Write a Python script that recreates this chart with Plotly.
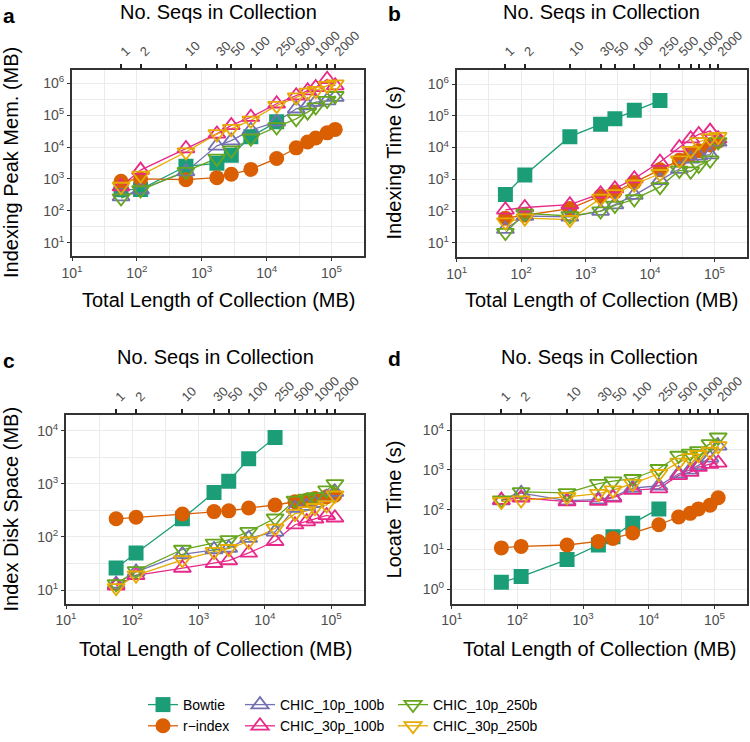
import plotly.graph_objects as go

# ---------------- data ----------------
n_seqs_labels = ["1", "2", "10", "30", "50", "100", "250", "500", "", "1000", "", "2000"]
total_mb = [57, 114, 570, 1710, 2850, 5700, 14250, 28500, 42750, 57000, 85500, 114000]
bowtie_mb = total_mb[:7]

series_names = ["Bowtie", "r\u2212index", "CHIC_10p_100b", "CHIC_30p_100b", "CHIC_10p_250b", "CHIC_30p_250b"]

# Panel a: Indexing peak memory (MB)
bowtie_mem = [460, 470, 2500, 3100, 5600, 21000, 62000]
rindex_mem = [850, 1000, 950, 1100, 1400, 2000, 4400, 9500, 14500, 19400, 28000, 36000]
chic10_100_mem = [280, 460, 1700, 11000, 16000, 34000, 62000, 160000, 200000, 260000, 290000, 370000]
chic30_100_mem = [580, 1900, 9000, 26000, 48000, 87000, 230000, 410000, 590000, 750000, 1350000, 850000]
chic10_250_mem = [250, 450, 1700, 4400, 8000, 19000, 43000, 77000, 125000, 180000, 290000, 410000]
chic30_250_mem = [580, 1300, 7000, 26000, 38000, 69000, 200000, 370000, 520000, 590000, 850000, 950000]

# Panel b: Indexing time (s)
bowtie_time = [330, 1380, 22000, 54000, 81000, 148000, 300000]
rindex_time = [60, 75, 120, 300, 400, 800, 2000, 4000, 6000, 8000, 12000, 16000]
chic10_100_time = [27, 70, 66, 100, 160, 320, 930, 2100, 4400, 5500, 6000, 15000]
chic30_100_time = [110, 130, 160, 350, 510, 1050, 3500, 10000, 19000, 26000, 33000, 19000]
chic10_250_time = [21, 85, 70, 100, 150, 240, 580, 1900, 1800, 2700, 4000, 15000]
chic30_250_time = [45, 60, 54, 250, 350, 700, 1500, 4000, 8000, 15000, 20000, 22000]

# Panel c: Index disk space (MB)
bowtie_disk = [26, 50, 220, 690, 1120, 2960, 7500]
rindex_disk = [220, 235, 270, 300, 310, 350, 400, 460, 490, 530, 570, 610]
chic10_100_disk = [13, 22, 47, 58, 62, 95, 125, 350, 380, 430, 560, 700]
chic30_100_disk = [12, 19, 26, 32, 36, 50, 83, 170, 195, 220, 255, 230]
chic10_250_disk = [13, 23, 58, 76, 88, 126, 225, 490, 530, 570, 760, 1000]
chic30_250_disk = [11, 19, 37, 53, 60, 83, 145, 275, 310, 355, 400, 610]

# Panel d: Locate time (s)
bowtie_loc = [1.5, 2.1, 5.6, 13, 21, 46, 105]
rindex_loc = [11, 12, 13, 16, 19, 26, 42, 66, 81, 105, 130, 200]
chic10_100_loc = [170, 260, 170, 180, 210, 350, 400, 800, 1000, 1300, 2000, 4000]
chic30_100_loc = [175, 200, 160, 165, 200, 310, 340, 730, 880, 1170, 1400, 1500]
chic10_250_loc = [175, 280, 265, 450, 520, 600, 1070, 2300, 2600, 3000, 4500, 6600]
chic30_250_loc = [160, 175, 210, 255, 310, 450, 800, 1550, 2000, 2400, 2900, 4000]

x_ticks = [10, 100, 1000, 10000, 100000]
x_ticktext = ["10<sup>1</sup>", "10<sup>2</sup>", "10<sup>3</sup>", "10<sup>4</sup>", "10<sup>5</sup>"]
y_ticks_ab = [10, 100, 1000, 10000, 100000, 1000000]
y_ticktext_ab = ["10<sup>%d</sup>" % i for i in range(1, 7)]
y_ticks_c = [10, 100, 1000, 10000]
y_ticktext_c = ["10<sup>%d</sup>" % i for i in range(1, 5)]
y_ticks_d = [1, 10, 100, 1000, 10000]
y_ticktext_d = ["10<sup>%d</sup>" % i for i in range(0, 5)]

panel_letters = ["a", "b", "c", "d"]
y_titles = ["Indexing Peak Mem. (MB)", "Indexing Time (s)", "Index Disk Space (MB)", "Locate Time (s)"]
x_title = "Total Length of Collection (MB)"
top_title = "No. Seqs in Collection"

# ---------------- styling ----------------
colors = ["#1B9E77", "#D95F02", "#7570B3", "#E7298A", "#66A61E", "#E6AB02"]
symbols = ["square", "circle", "triangle-up-open", "triangle-up-open", "triangle-down-open", "triangle-down-open"]
msizes = [15, 15, 15, 15, 15, 15]
FONT = "Liberation Sans, Arial, Helvetica, sans-serif"
W, H = 750, 742

def fx(px):
    return px / W

def fy(py):
    return 1 - py / H

panels = [
    dict(data=[bowtie_mem, rindex_mem, chic10_100_mem, chic30_100_mem, chic10_250_mem, chic30_250_mem],
         px=(72, 364), py=(70.7, 258.3), yr=(0.586, 6.42), yt=(y_ticks_ab, y_ticktext_ab)),
    dict(data=[bowtie_time, rindex_time, chic10_100_time, chic30_100_time, chic10_250_time, chic30_250_time],
         px=(456.7, 746.7), py=(70.7, 259.3), yr=(0.56, 6.44), yt=(y_ticks_ab, y_ticktext_ab)),
    dict(data=[bowtie_disk, rindex_disk, chic10_100_disk, chic30_100_disk, chic10_250_disk, chic30_250_disk],
         px=(66, 364.3), py=(419.3, 609.3), yr=(0.746, 4.29), yt=(y_ticks_c, y_ticktext_c)),
    dict(data=[bowtie_loc, rindex_loc, chic10_100_loc, chic30_100_loc, chic10_250_loc, chic30_250_loc],
         px=(451.7, 747.3), py=(419.3, 609.3), yr=(-0.356, 4.37), yt=(y_ticks_d, y_ticktext_d)),
]

fig = go.Figure()
layout = dict(width=W, height=H, autosize=False, margin=dict(l=0, r=0, t=0, b=0, pad=0),
              paper_bgcolor="white", plot_bgcolor="white", font=dict(family=FONT),
              annotations=[], hovermode=False)

def xs_for(i):
    return bowtie_mb if i == 0 else total_mb

x_minor = [10 ** (k + 0.5) for k in range(0, 6)]

for p, pan in enumerate(panels):
    k = p + 1
    xa = "x" if k == 1 else "x%d" % k
    ya = "y" if k == 1 else "y%d" % k
    for i, ys in enumerate(pan["data"]):
        fig.add_trace(go.Scatter(x=xs_for(i), y=ys, mode="lines", xaxis=xa, yaxis=ya,
                                 line=dict(color=colors[i], width=1.3), showlegend=False,
                                 hoverinfo="skip"))
    for i, ys in enumerate(pan["data"]):
        filled = i < 2
        fig.add_trace(go.Scatter(x=xs_for(i), y=ys, mode="markers", xaxis=xa, yaxis=ya,
                                 marker=dict(symbol=symbols[i], size=msizes[i], color=colors[i],
                                             line=dict(width=0 if filled else 1.8, color=colors[i])),
                                 showlegend=False, name=series_names[i]))
    x0, x1 = pan["px"]
    y0, y1 = pan["py"]
    dom_x = [fx(x0), fx(x1)]
    dom_y = [fy(y1), fy(y0)]
    yr = pan["yr"]
    y_minor = [10 ** (v + 0.5) for v in range(-1, 7)]
    layout["xaxis" if k == 1 else "xaxis%d" % k] = dict(
        type="log", domain=dom_x, anchor=ya, range=[1, 5.5], automargin=False,
        tickvals=x_ticks, ticktext=x_ticktext, tickfont=dict(size=14, color="#4D4D4D"),
        showgrid=True, gridcolor="#EBEBEB", gridwidth=1.3,
        minor=dict(tickvals=x_minor, showgrid=True, gridcolor="#EBEBEB", gridwidth=0.7, ticks=""),
        showline=True, mirror=True, linecolor="#333333", linewidth=2,
        ticks="outside", ticklen=3, tickwidth=1.2, tickcolor="#333333", zeroline=False)
    layout["yaxis" if k == 1 else "yaxis%d" % k] = dict(
        type="log", domain=dom_y, anchor=xa, range=list(yr), automargin=False,
        tickvals=pan["yt"][0], ticktext=pan["yt"][1], tickfont=dict(size=14, color="#4D4D4D"),
        showgrid=True, gridcolor="#EBEBEB", gridwidth=1.3,
        minor=dict(tickvals=y_minor, showgrid=True, gridcolor="#EBEBEB", gridwidth=0.7, ticks=""),
        showline=True, mirror=True, linecolor="#333333", linewidth=2,
        ticks="outside", ticklen=3, tickwidth=1.2, tickcolor="#333333", zeroline=False)
    layout["xaxis%d" % (k + 4)] = dict(
        type="log", overlaying=xa, anchor=ya, side="top", range=[1, 5.5], automargin=False,
        tickvals=total_mb, ticktext=n_seqs_labels, tickangle=-45,
        tickfont=dict(size=13, color="#4D4D4D"), showgrid=False, showline=False,
        ticks="outside", ticklen=5, tickwidth=1.5, tickcolor="#222222", zeroline=False)
    fig.add_trace(go.Scatter(x=[total_mb[0]], y=[pan["data"][1][0]], mode="markers",
                             xaxis="x%d" % (k + 4), yaxis=ya, marker=dict(opacity=0),
                             showlegend=False, hoverinfo="skip"))
    cxp = (x0 + x1) / 2
    cyp = (y0 + y1) / 2
    top_y = 12.5 if p < 2 else 360
    bot_y = 303 if p < 2 else 655
    ytit_x = 11 if p % 2 == 0 else 394
    let_xy = [(9, 16), (394, 14), (9, 364), (394, 362)][p]
    layout["annotations"] += [
        dict(text=top_title, x=fx(cxp), y=fy(top_y), xref="paper", yref="paper", showarrow=False,
             xanchor="center", yanchor="middle", font=dict(size=20, color="black")),
        dict(text=x_title, x=fx(cxp), y=fy(bot_y), xref="paper", yref="paper", showarrow=False,
             xanchor="center", yanchor="middle", font=dict(size=20, color="black")),
        dict(text=y_titles[p], x=fx(ytit_x), y=fy(cyp), xref="paper", yref="paper", showarrow=False,
             xanchor="center", yanchor="middle", textangle=-90, font=dict(size=20, color="black")),
        dict(text="<b>%s</b>" % panel_letters[p], x=fx(let_xy[0]), y=fy(let_xy[1]),
             xref="paper", yref="paper", showarrow=False, xanchor="center", yanchor="middle",
             font=dict(size=21, color="black")),
    ]

legend_cols = [[0, 1], [2, 3], [4, 5]]
legend_names = ["legend", "legend2", "legend3"]
legend_x = [143, 240, 393]
for c, idxs in enumerate(legend_cols):
    for i in idxs:
        fig.add_trace(go.Scatter(x=[None], y=[None], mode="lines+markers", name=series_names[i],
                                 legend=legend_names[c],
                                 line=dict(color=colors[i], width=1.3),
                                 marker=dict(symbol=symbols[i], size=msizes[i], color=colors[i],
                                             line=dict(width=0 if i < 2 else 1.8, color=colors[i]))))
    layout[legend_names[c]] = dict(x=fx(legend_x[c]), y=fy(696), xanchor="left", yanchor="top",
                                   orientation="v", bgcolor="rgba(0,0,0,0)",
                                   font=dict(size=14, color="black", family=FONT),
                                   tracegroupgap=0, itemwidth=30)

fig.update_layout(**layout)
fig.write_html("out.html", config={"displayModeBar": False},
               post_script="document.body.style.margin='0';document.body.style.overflow='hidden';")
